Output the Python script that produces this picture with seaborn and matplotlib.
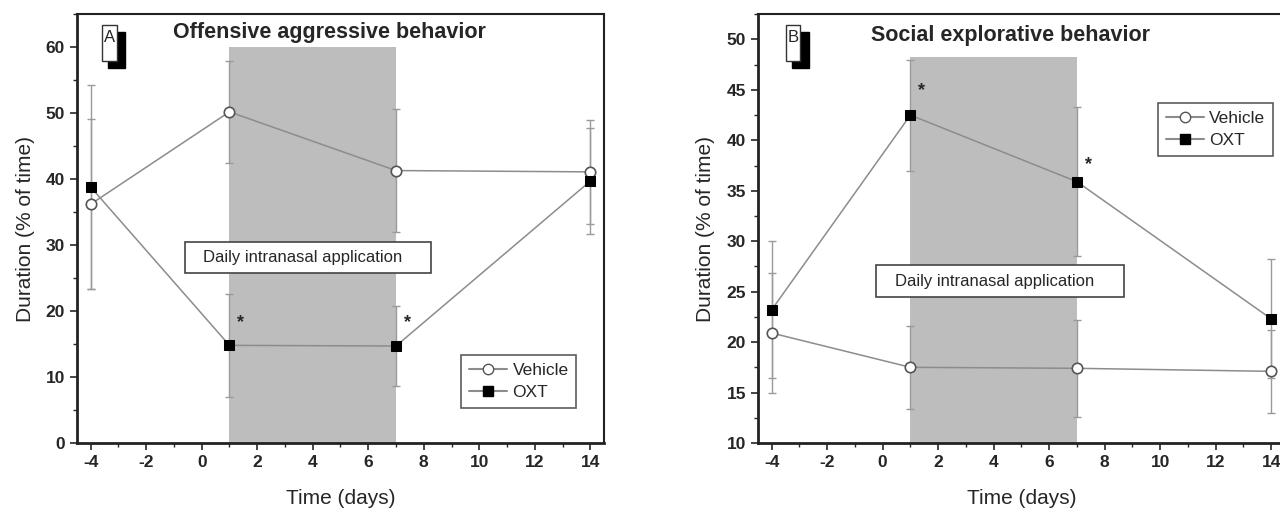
import matplotlib
matplotlib.use("Agg")
import matplotlib.pyplot as plt
import matplotlib.patches as mpatches
from matplotlib.lines import Line2D
from matplotlib.ticker import MultipleLocator
import seaborn as sns
import pandas as pd

# data
days = [-4, 1, 7, 14]

# panel A: offensive aggressive behavior
agg_vehicle = [36.2, 50.2, 41.3, 41.1]
agg_vehicle_err = [12.9, 7.7, 9.3, 7.9]
agg_oxt = [38.8, 14.8, 14.7, 39.7]
agg_oxt_err = [15.5, 7.8, 6.0, 8.0]

# panel B: social explorative behavior
soc_vehicle = [20.9, 17.5, 17.4, 17.1]
soc_vehicle_err = [5.9, 4.1, 4.8, 4.1]
soc_oxt = [23.2, 42.5, 35.9, 22.3]
soc_oxt_err = [6.8, 5.5, 7.4, 5.9]

groups = ["Vehicle", "OXT"]

sns.set_theme(style="ticks")
plt.rcParams["font.family"] = ["Liberation Sans", "DejaVu Sans"]
plt.rcParams["axes.unicode_minus"] = False

line_col = "#8c8c8c"
err_col = "#9a9a9a"


def make_df(veh, oxt):
    return pd.DataFrame({
        "day": days * 2,
        "value": veh + oxt,
        "group": ["Vehicle"] * 4 + ["OXT"] * 4,
    })


def draw_panel(ax, df, errs, ylim, shade_top, ymajor, yminor, title, title_y,
               letter, letter_x, box_y, stars, legend_loc):
    # shaded treatment period
    ax.fill_between([1, 7], ylim[0], shade_top, color="#bdbdbd", zorder=0, lw=0)

    for g, err in zip(groups, errs):
        sub = df[df["group"] == g]
        ax.errorbar(sub["day"], sub["value"], yerr=err, fmt="none",
                    ecolor=err_col, elinewidth=1, capsize=3, capthick=1, zorder=2)
    sns.lineplot(data=df[df["group"] == "Vehicle"], x="day", y="value", ax=ax,
                 color=line_col, lw=1.1, marker="o", markersize=7.5,
                 markerfacecolor="white", markeredgecolor="#555555",
                 markeredgewidth=1.2, zorder=3, errorbar=None)
    sns.lineplot(data=df[df["group"] == "OXT"], x="day", y="value", ax=ax,
                 color=line_col, lw=1.1, marker="s", markersize=6.5,
                 markerfacecolor="black", markeredgecolor="black", zorder=4,
                 errorbar=None)

    ax.set_xlim(-4.5, 14.5)
    ax.set_ylim(*ylim)
    ax.xaxis.set_major_locator(MultipleLocator(2))
    ax.xaxis.set_minor_locator(MultipleLocator(1))
    ax.yaxis.set_major_locator(MultipleLocator(ymajor))
    ax.yaxis.set_minor_locator(MultipleLocator(yminor))
    ax.tick_params(which="major", length=5, width=1.2, labelsize=12.5)
    ax.tick_params(which="minor", length=3, width=1.0)
    for lbl in ax.get_xticklabels() + ax.get_yticklabels():
        lbl.set_fontweight("bold")
    for s in ax.spines.values():
        s.set_visible(True)
        s.set_color("#222222")
    ax.spines["left"].set_linewidth(2)
    ax.spines["bottom"].set_linewidth(2)
    ax.spines["top"].set_linewidth(1.5)
    ax.spines["right"].set_linewidth(1.5)

    ax.set_xlabel("Time (days)", fontsize=15, labelpad=14)
    ax.set_ylabel("Duration (% of time)", fontsize=15, labelpad=8)

    ax.text(4.6, title_y, title, ha="center", va="center", fontsize=15.5,
            fontweight="bold")

    # panel letter: white box with black drop shadow (axes fractions)
    ax.add_patch(mpatches.Rectangle((letter_x + 0.012, 0.875), 0.032, 0.084,
                                    transform=ax.transAxes, fc="black",
                                    ec="black", zorder=6, clip_on=False))
    ax.add_patch(mpatches.Rectangle((letter_x, 0.892), 0.028, 0.082,
                                    transform=ax.transAxes, fc="white",
                                    ec="#333333", lw=1, zorder=7, clip_on=False))
    ax.text(letter_x + 0.014, 0.945, letter, transform=ax.transAxes,
            ha="center", va="center", fontsize=12, zorder=8)

    # treatment annotation box
    x0, x1 = box_y[0], box_y[1]
    y0, y1 = box_y[2], box_y[3]
    ax.add_patch(mpatches.Rectangle((x0, y0), x1 - x0, y1 - y0, fc="white",
                                    ec="#444444", lw=1.2, zorder=5))
    ax.text((x0 + x1) / 2 - 0.2, (y0 + y1) / 2, "Daily intranasal application",
            ha="center", va="center", fontsize=12, zorder=6)

    for sx, sy in stars:
        ax.text(sx, sy, "*", ha="center", va="center", fontsize=13,
                fontweight="bold")

    handles = [
        Line2D([], [], color=line_col, marker="o", markerfacecolor="white",
               markeredgecolor="#555555", markersize=7.5),
        Line2D([], [], color=line_col, marker="s", markerfacecolor="black",
               markeredgecolor="black", markersize=6.5),
    ]
    leg = ax.legend(handles, groups, loc="lower left", bbox_to_anchor=legend_loc,
                    borderaxespad=0, fontsize=12.5, frameon=True, fancybox=False,
                    edgecolor="#333333", handlelength=2.2, handletextpad=0.3,
                    borderpad=0.45, labelspacing=0.4)
    leg.get_frame().set_linewidth(1.2)


fig = plt.figure(figsize=(12.8, 5.08), dpi=100)
axA = fig.add_axes([0.060, 0.128, 0.412, 0.844])
axB = fig.add_axes([0.592, 0.128, 0.412, 0.844])

draw_panel(axA, make_df(agg_vehicle, agg_oxt), [agg_vehicle_err, agg_oxt_err],
           (0, 65), 60, 10, 5, "Offensive aggressive behavior", 62.3,
           "A", 0.048, (-0.6, 8.27, 25.8, 30.5),
           [(1.4, 18.3), (7.4, 18.3)], (0.729, 0.082))

draw_panel(axB, make_df(soc_vehicle, soc_oxt), [soc_vehicle_err, soc_oxt_err],
           (10, 52.5), 48.3, 5, 2.5, "Social explorative behavior", 50.4,
           "B", 0.053, (-0.25, 8.7, 24.5, 27.6),
           [(1.4, 44.9), (7.4, 37.6)], (0.759, 0.669))

fig.savefig("out.png", dpi=100)
